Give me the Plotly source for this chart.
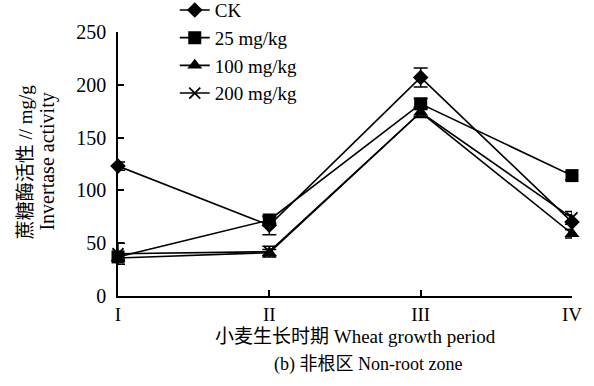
import plotly.graph_objects as go

periods = ["I", "II", "III", "IV"]
series_names = ["CK", "25 mg/kg", "100 mg/kg", "200 mg/kg"]
ck = [123, 67, 207, 70]
mg25 = [37, 72, 182, 114]
mg100 = [36, 41, 174, 59]
mg200 = [40, 42, 174, 74]
ck_err = [4, 9, 9, 7]
mg25_err = [3, 3, 5, 4]
mg100_err = [3, 3, 4, 4]
mg200_err = [10, 5, 5, 6]
y_ticks = [0, 50, 100, 150, 200, 250]

values = [ck, mg25, mg100, mg200]
errors = [ck_err, mg25_err, mg100_err, mg200_err]
symbols = ["diamond", "square", "triangle-up", "x-thin"]
sizes = [12, 13, 13, 11]

FONT = "Liberation Serif, 'Noto Sans CJK SC', serif"

fig = go.Figure()
for i, (name, vals, errs) in enumerate(zip(series_names, values, errors)):
    fig.add_trace(go.Scatter(
        x=periods, y=vals, name=name, mode="lines+markers",
        line=dict(color="black", width=1.6),
        marker=dict(symbol=symbols[i], size=sizes[i], color="black",
                    line=dict(color="black", width=1.8 if symbols[i] == "x-thin" else 0)),
        error_y=dict(type="data", array=errs, visible=True, color="black",
                     thickness=1.5, width=7),
        cliponaxis=False, legendgroup=name,
    ))

fig.update_layout(
    width=594, height=386,
    margin=dict(l=118, r=22, t=32, b=90, autoexpand=False),
    paper_bgcolor="white", plot_bgcolor="white",
    font=dict(family=FONT, size=18, color="black"),
    showlegend=True,
    legend=dict(x=0.125, y=1.155, xanchor="left", yanchor="top",
                bgcolor="rgba(0,0,0,0)", font=dict(size=19, family=FONT),
                tracegroupgap=0, itemwidth=30),
    xaxis=dict(type="category", range=[0, 3], showgrid=False, zeroline=False,
               showline=True, linecolor="black", linewidth=1.5,
               ticks="inside", ticklen=6, tickcolor="black", tickwidth=1.5,
               tickfont=dict(size=19, family=FONT)),
    yaxis=dict(range=[0, 250], tickvals=y_ticks, showgrid=False, zeroline=False,
               showline=True, linecolor="black", linewidth=1.5,
               ticks="inside", ticklen=6, tickcolor="black", tickwidth=1.5,
               ticklabelstandoff=6, tickfont=dict(size=20, family=FONT)),
    annotations=[
        dict(text="小麦生长时期 Wheat growth period", xref="paper", yref="paper",
             x=0.524, y=-0.155, xanchor="center", yanchor="middle", showarrow=False,
             font=dict(size=19, family=FONT)),
        dict(text="(b) 非根区 Non-root zone", xref="paper", yref="paper",
             x=0.55, y=-0.258, xanchor="center", yanchor="middle", showarrow=False,
             font=dict(size=18, family=FONT)),
        dict(text="蔗糖酶活性 // mg/g", xref="paper", yref="paper",
             x=-0.205, y=0.51, xanchor="center", yanchor="middle", showarrow=False,
             textangle=-90, font=dict(size=19, family=FONT)),
        dict(text="Invertase activity", xref="paper", yref="paper",
             x=-0.156, y=0.51, xanchor="center", yanchor="middle", showarrow=False,
             textangle=-90, font=dict(size=20, family=FONT)),
    ],
)

fig.write_html("out.html", config={"displayModeBar": False},
               post_script="document.body.style.margin='0';")
